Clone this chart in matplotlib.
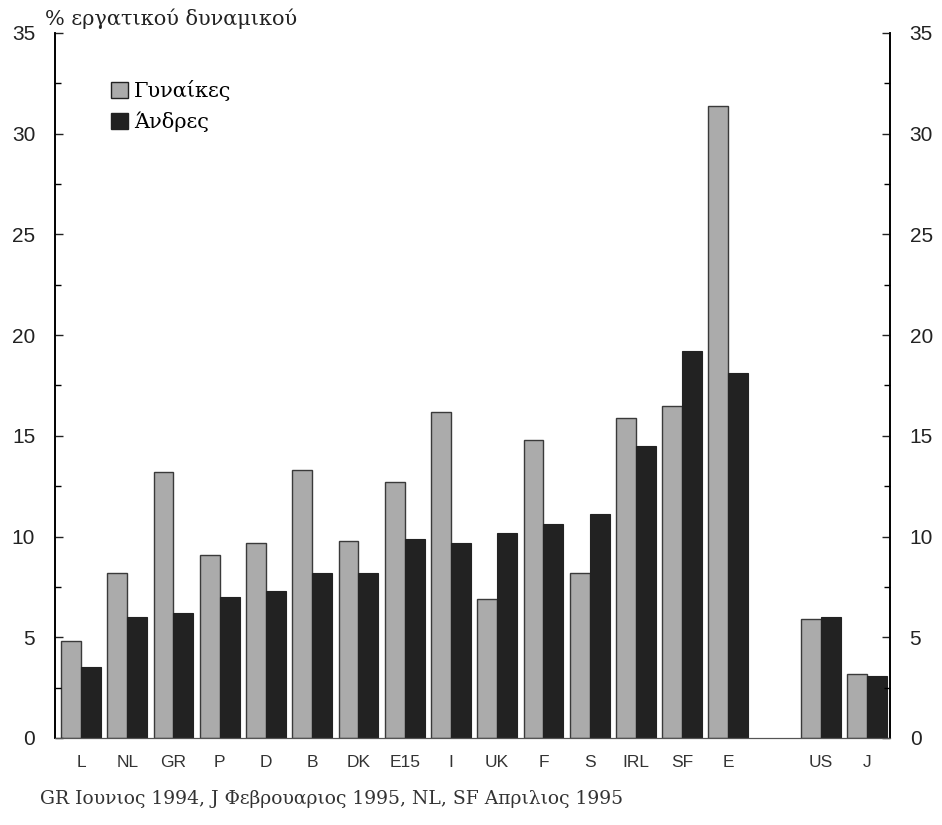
import matplotlib.pyplot as plt
from matplotlib.patches import Patch
from matplotlib.ticker import MultipleLocator

countries = ['L', 'NL', 'GR', 'P', 'D', 'B', 'DK', 'E15', 'I', 'UK', 'F', 'S',
             'IRL', 'SF', 'E', 'US', 'J']
positions = [0, 1, 2, 3, 4, 5, 6, 7, 8, 9, 10, 11, 12, 13, 14, 16, 17]
women = [4.8, 8.2, 13.2, 9.1, 9.7, 13.3, 9.8, 12.7, 16.2, 6.9, 14.8, 8.2,
         15.9, 16.5, 31.4, 5.9, 3.2]
men = [3.5, 6.0, 6.2, 7.0, 7.3, 8.2, 8.2, 9.9, 9.7, 10.2, 10.6, 11.1,
       14.5, 19.2, 18.1, 6.0, 3.1]

serif = ['DejaVu Serif']
sans = ['Liberation Sans', 'DejaVu Sans']

fig = plt.figure(figsize=(9.42, 8.25), dpi=100)
ax = fig.add_axes([0.058, 0.1055, 0.887, 0.8545])

w = 0.43
xw = [p - w / 2 for p in positions]
xm = [p + w / 2 for p in positions]
ax.bar(xw, women, width=w, color='#ababab', edgecolor='#3a3a3a', linewidth=1.0)
ax.bar(xm, men, width=w, color='#222222', edgecolor='#222222', linewidth=0.8)

ax.set_xlim(-0.57, 17.5)
ax.set_ylim(0, 35)
ax.set_xticks(positions)
ax.set_xticklabels(countries, fontsize=12.5, family=sans, color='#333333')
ax.tick_params(axis='x', length=0, pad=12)

ax.yaxis.set_major_locator(MultipleLocator(5))
ax.yaxis.set_minor_locator(MultipleLocator(2.5))
ax.tick_params(axis='y', which='major', direction='in', length=6, width=1,
               labelsize=15, pad=14, colors='#222222')
ax.tick_params(axis='y', which='minor', direction='in', length=4, width=1)
for lab in ax.get_yticklabels():
    lab.set_family(sans)

ax2 = ax.twinx()
ax2.set_ylim(0, 35)
ax2.yaxis.set_major_locator(MultipleLocator(5))
ax2.yaxis.set_minor_locator(MultipleLocator(2.5))
ax2.tick_params(axis='y', which='major', direction='in', length=6, width=1,
                labelsize=15, pad=14, colors='#222222')
ax2.tick_params(axis='y', which='minor', direction='in', length=4, width=1)
for lab in ax2.get_yticklabels():
    lab.set_family(sans)

for a in (ax, ax2):
    a.spines['top'].set_visible(False)
    a.spines['left'].set_linewidth(1.2)
    a.spines['right'].set_linewidth(1.2)
    a.spines['bottom'].set_linewidth(0.8)
    a.spines['bottom'].set_color('#555555')

handles = [Patch(facecolor='#ababab', edgecolor='#222222', label='Γυναίκες'),
           Patch(facecolor='#222222', edgecolor='#222222', label='Άνδρες')]
ax2.legend(handles=handles, loc='upper left', bbox_to_anchor=(0.045, 0.96),
           frameon=False, prop={'family': serif, 'size': 15},
           handlelength=0.8, handleheight=0.8, handletextpad=0.3,
           labelspacing=0.5)

fig.text(0.048, 0.97, '% εργατικού δυναμικού', family=serif, fontsize=15,
         color='#222222')
fig.text(0.042, 0.025, 'GR Ιουνιος 1994, J Φεβρουαριος 1995, NL, SF Απριλιος 1995',
         family=serif, fontsize=13.5, color='#333333')

plt.savefig('out.png', dpi=100)
